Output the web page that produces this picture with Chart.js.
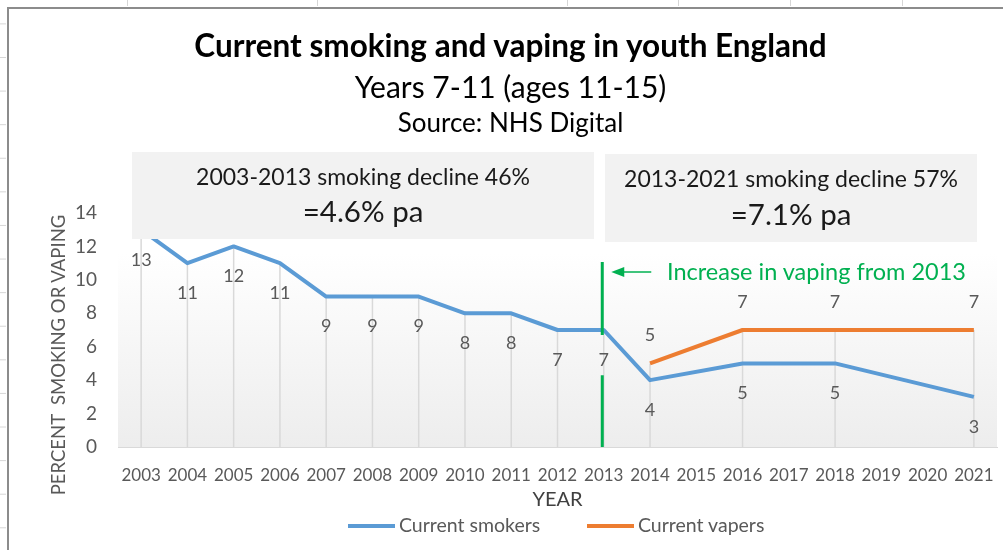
<!DOCTYPE html>
<html>
<head>
<meta charset="utf-8">
<script src="https://cdn.jsdelivr.net/npm/chart.js@4.4.1/dist/chart.umd.min.js"></script>
<style>
  html, body { margin: 0; padding: 0; background: #fff; }
  #wrap { position: relative; width: 1003px; height: 550px; overflow: hidden; font-family: Lato, "Open Sans", sans-serif; }
  #chart { position: absolute; left: 0; top: 0; }
  .frame { position: absolute; left: 7px; top: 7px; width: 1100px; height: 600px; border-left: 2px solid #8c8c8c; border-top: 2px solid #8c8c8c; }
  .rows { position: absolute; left: 0; top: 0; width: 6px; height: 550px;
          background: linear-gradient(#d6d6d6 0 1px, transparent 1px) 0 23.4px / 6px 33.6px repeat-y; }
  .col { position: absolute; top: 0; width: 1px; height: 6px; background: #d6d6d6; }
  .txt { position: absolute; left: 0; width: 1003px; text-align: center; white-space: nowrap; color: #000; }
  .box { position: absolute; background: #f2f2f2; }
  .box div { position: absolute; left: 0; right: 0; text-align: center; white-space: nowrap; color: #1a1a1a; }
  .note { position: absolute; white-space: nowrap; color: #00b050; }
  .ytitle { position: absolute; left: 58px; top: 355px; width: 0; height: 0; }
  .ytitle span { position: absolute; left: 0; top: 0; transform: translate(-50%, -50%) rotate(-90deg);
                 white-space: pre; font-size: 18.5px; line-height: 22px; color: #595959; }
  .legend { position: absolute; top: 512px; left: 0; height: 26px; font-size: 19.5px; color: #595959; line-height: 26px; }
  .legend span.item { position: absolute; white-space: nowrap; }
  .legend i { display: inline-block; width: 47px; height: 4px; vertical-align: middle; margin-right: 4px; position: relative; top: -1px; }
</style>
</head>
<body>
<div id="wrap">
  <canvas id="chart" width="1003" height="550"></canvas>
  <div class="rows"></div>
  <div class="col" style="left:127px"></div>
  <div class="col" style="left:317px"></div>
  <div class="col" style="left:567px"></div>
  <div class="col" style="left:678px"></div>
  <div class="col" style="left:790px"></div>
  <div class="col" style="left:902px"></div>
  <div class="frame"></div>

  <div class="txt" style="top:26px; left:9px; font-size:31.5px; font-weight:bold; line-height:38px;">Current smoking and vaping in youth England</div>
  <div class="txt" style="top:68px; left:9px; font-size:30px; line-height:36px;">Years 7-11 (ages 11-15)</div>
  <div class="txt" style="top:106px; left:9px; font-size:26px; line-height:32px;">Source: NHS Digital</div>

  <div class="box" style="left:132px; top:152px; width:462px; height:87px;">
    <div style="top:10px; font-size:23px; line-height:28px;">2003-2013 smoking decline 46%</div>
    <div style="top:41px; font-size:29.5px; line-height:36px;">=4.6% pa</div>
  </div>
  <div class="box" style="left:605px; top:154px; width:372px; height:88px;">
    <div style="top:10px; font-size:23px; line-height:28px;">2013-2021 smoking decline 57%</div>
    <div style="top:42px; font-size:29.5px; line-height:36px;">=7.1% pa</div>
  </div>

  <div class="note" style="left:667px; top:256px; font-size:23.5px; line-height:30px;">Increase in vaping from 2013</div>

  <div class="ytitle"><span>PERCENT  SMOKING OR VAPING</span></div>
  <div class="legend" id="legend"></div>
</div>

<script>
const YEARS = ["2003", "2004", "2005", "2006", "2007", "2008", "2009", "2010", "2011", "2012",
  "2013", "2014", "2015", "2016", "2017", "2018", "2019", "2020", "2021"];
// gaps are survey years with no published figure
const SMOKERS = [13, 11, 12, 11, 9, 9, 9, 8, 8, 7, 7, 4, null, 5, null, 5, null, null, 3];
const VAPERS = [null, null, null, null, null, null, null, null, null, null, null, 5, null, 7, null, 7, null, null, 7];
const SERIES_NAMES = ["Current smokers", "Current vapers"];
const Y_MIN = 0;
const Y_MAX = 14;
const Y_STEP = 2;

// green "vaping took off here" marker, in data units
const MARKER_YEAR = "2013";
const MARKER_TOP = 11.07;
const MARKER_GAP = [6.7, 4.3];
const ARROW_AT = 10.47;

const FONT = "Lato, 'Open Sans', sans-serif";
const GREEN = "#00b050";
const SERIES_COLOURS = ["#5b9bd5", "#ed7d31"];
// value labels: smokers sit under the line, vapers above it
const LABEL_SHIFT = [30, -28];

const plotFill = {
  id: "plotFill",
  beforeDraw(chart) {
    const { ctx, chartArea: a } = chart;
    const g = ctx.createLinearGradient(0, a.top + 40, 0, a.bottom);
    g.addColorStop(0, "#ffffff");
    g.addColorStop(1, "#ededed");
    ctx.save();
    ctx.fillStyle = g;
    ctx.fillRect(a.left, a.top, a.right - a.left, a.bottom - a.top);
    ctx.restore();
  },
};

// Excel-style drop lines: from the axis up to the highest point in each year
const dropLines = {
  id: "dropLines",
  beforeDatasetsDraw(chart) {
    const { ctx, scales: { x, y } } = chart;
    ctx.save();
    ctx.strokeStyle = "#d9d9d9";
    ctx.lineWidth = 1.5;
    YEARS.forEach((yr, i) => {
      const vals = chart.data.datasets.map((d) => d.data[i]).filter((v) => v != null);
      if (!vals.length) return;
      const px = x.getPixelForValue(i);
      ctx.beginPath();
      ctx.moveTo(px, y.getPixelForValue(0));
      ctx.lineTo(px, y.getPixelForValue(Math.max(...vals)));
      ctx.stroke();
    });
    ctx.restore();
  },
};

const valueLabels = {
  id: "valueLabels",
  afterDatasetsDraw(chart) {
    const ctx = chart.ctx;
    ctx.save();
    ctx.font = "18px " + FONT;
    ctx.fillStyle = "#595959";
    ctx.textAlign = "center";
    ctx.textBaseline = "middle";
    chart.data.datasets.forEach((ds, di) => {
      chart.getDatasetMeta(di).data.forEach((pt, i) => {
        const v = ds.data[i];
        if (v == null) return;
        ctx.fillText(String(v), pt.x, pt.y + LABEL_SHIFT[di]);
      });
    });
    ctx.restore();
  },
};

const vapingMarker = {
  id: "vapingMarker",
  afterDatasetsDraw(chart) {
    const { ctx, scales: { x, y } } = chart;
    const px = x.getPixelForValue(YEARS.indexOf(MARKER_YEAR)) - 1.5;
    ctx.save();
    ctx.strokeStyle = GREEN;
    ctx.lineWidth = 3;
    ctx.beginPath();
    ctx.moveTo(px, y.getPixelForValue(MARKER_TOP));
    ctx.lineTo(px, y.getPixelForValue(MARKER_GAP[0]));
    ctx.moveTo(px, y.getPixelForValue(MARKER_GAP[1]));
    ctx.lineTo(px, y.getPixelForValue(0));
    ctx.stroke();

    const ay = y.getPixelForValue(ARROW_AT);
    ctx.lineWidth = 1.5;
    ctx.beginPath();
    ctx.moveTo(px + 49, ay);
    ctx.lineTo(px + 20, ay);
    ctx.stroke();
    ctx.fillStyle = GREEN;
    ctx.beginPath();
    ctx.moveTo(px + 9, ay);
    ctx.lineTo(px + 22, ay - 5);
    ctx.lineTo(px + 22, ay + 5);
    ctx.closePath();
    ctx.fill();
    ctx.restore();
  },
};

const chart = new Chart(document.getElementById("chart"), {
  type: "line",
  data: {
    labels: YEARS,
    datasets: [SMOKERS, VAPERS].map((values, i) => ({
      label: SERIES_NAMES[i],
      data: values,
      borderColor: SERIES_COLOURS[i],
      backgroundColor: SERIES_COLOURS[i],
      borderWidth: 4,
      pointRadius: 0,
      spanGaps: true,
      tension: 0,
      borderJoinStyle: "round",
    })),
  },
  options: {
    responsive: false,
    animation: false,
    layout: { padding: { top: 213, right: 6, bottom: 38, left: 0 } },
    plugins: { legend: { display: false }, tooltip: { enabled: false } },
    scales: {
      x: {
        offset: true,
        grid: { display: false, drawTicks: false },
        border: { color: "#d9d9d9", width: 1 },
        ticks: { autoSkip: false, maxRotation: 0, padding: 18, color: "#595959", font: { family: FONT, size: 17 } },
        title: { display: true, text: "YEAR", color: "#404040", font: { family: FONT, size: 20 }, padding: { top: 0, bottom: 0 } },
        afterFit(s) { s.height = 65; s.paddingLeft = 0; s.paddingRight = 0; },
      },
      y: {
        min: Y_MIN,
        max: Y_MAX,
        ticks: { stepSize: Y_STEP, padding: 21, color: "#595959", font: { family: FONT, size: 19 } },
        grid: { display: false, drawTicks: false },
        border: { display: false },
        afterFit(s) { s.width = 118; },
      },
    },
  },
  plugins: [plotFill, dropLines, valueLabels, vapingMarker],
});

// legend built from the datasets themselves
const LEGEND_X = [348, 587];
document.getElementById("legend").innerHTML = chart.data.datasets
  .map((ds, i) => `<span class="item" style="left:${LEGEND_X[i]}px"><i style="background:${ds.borderColor}"></i>${ds.label}</span>`)
  .join("");
</script>
</body>
</html>
